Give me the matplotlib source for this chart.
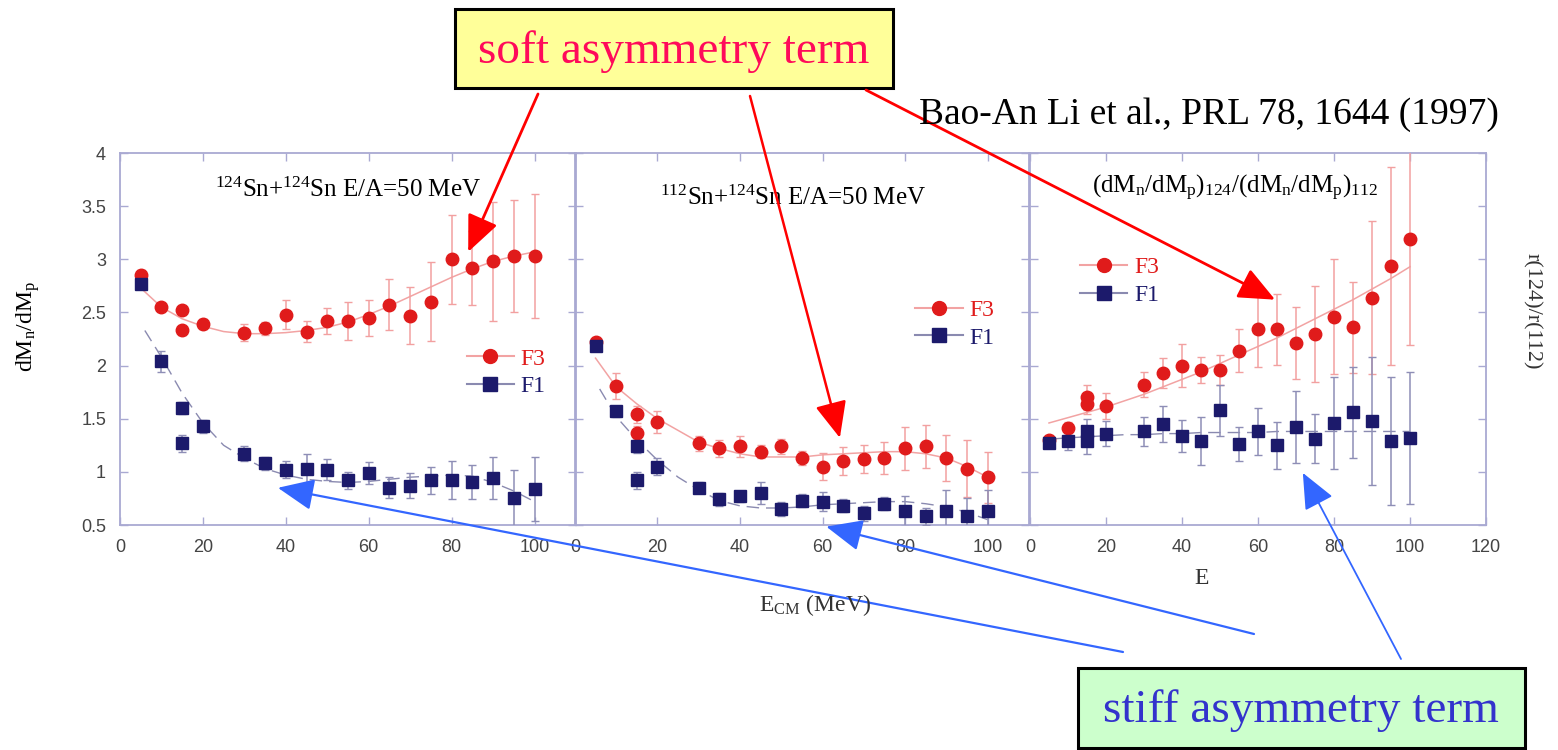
import matplotlib
matplotlib.use("Agg")
import matplotlib.pyplot as plt
from matplotlib.lines import Line2D
from matplotlib.patches import ConnectionPatch, Rectangle

plt.rcParams['mathtext.fontset'] = 'custom'
plt.rcParams['mathtext.rm'] = 'Liberation Serif'
plt.rcParams['mathtext.it'] = 'Liberation Serif:italic'
plt.rcParams['mathtext.bf'] = 'Liberation Serif:bold'

# energies (MeV) of the data points
energy = [5, 10, 15, 15, 20, 30, 35, 40, 45, 50, 55, 60, 65, 70, 75, 80, 85, 90, 95, 100]

# 124Sn+124Sn
p1_f3 = [2.85, 2.55, 2.52, 2.33, 2.39, 2.31, 2.35, 2.48, 2.32, 2.42, 2.42, 2.45, 2.57, 2.47, 2.60, 3.00, 2.92, 2.98, 3.03, 3.03]
p1_f3_err = [0.05, 0.04, 0.04, 0.04, 0.05, 0.08, 0.06, 0.14, 0.10, 0.12, 0.18, 0.17, 0.24, 0.27, 0.37, 0.42, 0.35, 0.56, 0.53, 0.58]
p1_f1 = [2.77, 2.04, 1.60, 1.27, 1.43, 1.17, 1.08, 1.02, 1.03, 1.02, 0.92, 0.99, 0.85, 0.87, 0.92, 0.92, 0.90, 0.94, 0.75, 0.84]
p1_f1_err = [0.05, 0.10, 0.06, 0.08, 0.06, 0.07, 0.06, 0.08, 0.14, 0.10, 0.08, 0.10, 0.10, 0.12, 0.13, 0.18, 0.16, 0.20, 0.27, 0.30]

# 112Sn+124Sn
p2_f3 = [2.22, 1.81, 1.54, 1.37, 1.47, 1.27, 1.22, 1.24, 1.19, 1.24, 1.13, 1.05, 1.10, 1.12, 1.13, 1.22, 1.24, 1.13, 1.03, 0.95]
p2_f3_err = [0.04, 0.12, 0.08, 0.06, 0.10, 0.07, 0.08, 0.10, 0.06, 0.07, 0.07, 0.13, 0.13, 0.13, 0.15, 0.20, 0.20, 0.22, 0.27, 0.24]
p2_f1 = [2.18, 1.57, 1.24, 0.92, 1.05, 0.85, 0.74, 0.77, 0.80, 0.65, 0.73, 0.72, 0.68, 0.61, 0.70, 0.63, 0.58, 0.63, 0.58, 0.63]
p2_f1_err = [0.04, 0.05, 0.06, 0.08, 0.08, 0.05, 0.06, 0.05, 0.10, 0.07, 0.06, 0.09, 0.06, 0.07, 0.06, 0.14, 0.08, 0.20, 0.17, 0.20]

# double ratio
p3_f3 = [1.30, 1.41, 1.70, 1.64, 1.62, 1.82, 1.93, 2.00, 1.96, 1.96, 2.14, 2.34, 2.34, 2.21, 2.30, 2.46, 2.36, 2.64, 2.94, 3.19]
p3_f3_err = [0.03, 0.06, 0.12, 0.10, 0.12, 0.12, 0.14, 0.20, 0.12, 0.14, 0.20, 0.35, 0.33, 0.34, 0.45, 0.54, 0.43, 0.72, 0.93, 1.00]
p3_f1 = [1.27, 1.29, 1.38, 1.29, 1.36, 1.38, 1.45, 1.34, 1.29, 1.58, 1.26, 1.38, 1.25, 1.42, 1.31, 1.46, 1.56, 1.48, 1.29, 1.32]
p3_f1_err = [0.04, 0.08, 0.12, 0.12, 0.12, 0.14, 0.17, 0.15, 0.23, 0.24, 0.16, 0.22, 0.22, 0.34, 0.23, 0.43, 0.43, 0.60, 0.60, 0.62]

# fitted curves
fit_x = [5, 10, 15, 20, 25, 30, 35, 40, 45, 50, 55, 60, 65, 70, 75, 80, 85, 90, 95, 100]
fit_x_f1 = [6, 10, 15, 20, 25, 30, 35, 40, 45, 50, 55, 60, 65, 70, 75, 80, 85, 90, 95, 100]
fit1_f3 = [2.73, 2.55, 2.44, 2.37, 2.32, 2.30, 2.30, 2.31, 2.33, 2.36, 2.41, 2.48, 2.56, 2.65, 2.74, 2.83, 2.91, 2.98, 3.03, 3.07]
fit1_f1 = [2.33, 2.08, 1.74, 1.46, 1.25, 1.13, 1.03, 0.97, 0.93, 0.91, 0.90, 0.91, 0.93, 0.95, 0.96, 0.97, 0.96, 0.90, 0.82, 0.72]
fit2_f3 = [2.07, 1.80, 1.64, 1.50, 1.39, 1.28, 1.22, 1.17, 1.14, 1.14, 1.14, 1.16, 1.17, 1.18, 1.19, 1.19, 1.17, 1.13, 1.05, 0.95]
fit2_f1 = [1.78, 1.52, 1.30, 1.11, 0.95, 0.83, 0.73, 0.68, 0.66, 0.66, 0.67, 0.69, 0.70, 0.71, 0.72, 0.72, 0.70, 0.67, 0.62, 0.55]
fit3_f3 = [1.46, 1.51, 1.56, 1.61, 1.67, 1.73, 1.80, 1.87, 1.94, 2.02, 2.10, 2.18, 2.26, 2.35, 2.44, 2.53, 2.62, 2.72, 2.82, 2.93]
fit3_f1 = [1.31, 1.32, 1.33, 1.34, 1.35, 1.35, 1.36, 1.36, 1.37, 1.37, 1.37, 1.37, 1.38, 1.38, 1.38, 1.38, 1.38, 1.38, 1.38, 1.38]

RED = '#e01b1b'
NAVY = '#1c1a6b'
FRAME = '#a9a9d2'
SERIF = 'Liberation Serif'
W, H = 1558, 750

fig = plt.figure(figsize=(15.58, 7.5), dpi=100)
ax1 = fig.add_axes([0.0770, 0.30, 0.2927, 0.496])
ax2 = fig.add_axes([0.3690, 0.30, 0.2914, 0.496])
ax3 = fig.add_axes([0.6611, 0.30, 0.2927, 0.496])


def draw_panel(ax, f3, f3_err, f1, f1_err, fit3, fit1, xmax):
    ax.set_facecolor('none')
    ax.plot(fit_x, fit3, color='#f2a3a3', lw=1.1, zorder=1)
    ax.plot(fit_x_f1, fit1, color='#8a8ab0', lw=1.0, dashes=(9, 5), zorder=1)
    ax.errorbar(energy, f3, yerr=f3_err, fmt='o', color=RED, ms=9, ecolor='#f2a0a0',
                elinewidth=1.1, capsize=3, zorder=3)
    ax.errorbar(energy, f1, yerr=f1_err, fmt='s', color=NAVY, ms=9, ecolor='#8e8eb6',
                elinewidth=1.1, capsize=3, zorder=3)
    ax.set_xlim(0, xmax)
    ax.set_ylim(0.5, 4)
    ax.set_xticks(range(0, xmax + 1, 20) if xmax == 120 else range(0, 101, 20))
    ax.set_yticks([0.5, 1, 1.5, 2, 2.5, 3, 3.5, 4])
    ax.set_yticklabels(['0.5', '1', '1.5', '2', '2.5', '3', '3.5', '4'])
    for s in ax.spines.values():
        s.set_color(FRAME)
        s.set_linewidth(1.3)
    ax.tick_params(direction='in', top=True, right=True, length=6, width=1, color=FRAME,
                   labelsize=13, labelcolor='#444444', pad=10)
    for lab in ax.get_xticklabels() + ax.get_yticklabels():
        lab.set_family('Liberation Sans')


def add_legend(ax, x, y):
    handles = [Line2D([], [], color='#f2a3a3', marker='o', mfc=RED, mec=RED, ms=10),
               Line2D([], [], color='#8a8ab0', marker='s', mfc=NAVY, mec=NAVY, ms=10)]
    ax.legend(handles, ['F3', 'F1'], loc='center left', bbox_to_anchor=(x, y),
              frameon=False, labelcolor=[RED, NAVY], handlelength=2.0, handletextpad=0.3,
              labelspacing=0.25, borderpad=0, borderaxespad=0,
              prop={'family': SERIF, 'size': 17})


draw_panel(ax1, p1_f3, p1_f3_err, p1_f1, p1_f1_err, fit1_f3, fit1_f1, 110)
draw_panel(ax2, p2_f3, p2_f3_err, p2_f1, p2_f1_err, fit2_f3, fit2_f1, 110)
draw_panel(ax3, p3_f3, p3_f3_err, p3_f1, p3_f1_err, fit3_f3, fit3_f1, 120)
ax2.tick_params(labelleft=False)
ax3.tick_params(labelleft=False)

add_legend(ax1, 0.76, 0.41)
add_legend(ax2, 0.75, 0.54)
add_legend(ax3, 0.11, 0.655)

ax1.text(0.50, 0.90, r'$^{124}$Sn+$^{124}$Sn E/A=50 MeV', transform=ax1.transAxes,
         ha='center', va='center', family=SERIF, fontsize=18)
ax2.text(0.48, 0.88, r'$^{112}$Sn+$^{124}$Sn E/A=50 MeV', transform=ax2.transAxes,
         ha='center', va='center', family=SERIF, fontsize=18)
ax3.text(0.45, 0.905, r'(dM$_\mathrm{n}$/dM$_\mathrm{p}$)$_{124}$/(dM$_\mathrm{n}$/dM$_\mathrm{p}$)$_{112}$',
         transform=ax3.transAxes, ha='center', va='center', family=SERIF, fontsize=18)

fig.text(28 / W, 1 - 326 / H, r'dM$_\mathrm{n}$/dM$_\mathrm{p}$', rotation=90,
         ha='center', va='center', family=SERIF, fontsize=17)
fig.text(1532 / W, 1 - 311 / H, 'r(124)/r(112)', rotation=-90,
         ha='center', va='center', family=SERIF, fontsize=16, color='#333333')
fig.text(815 / W, 1 - 605 / H, r'E$_\mathrm{CM}$ (MeV)', ha='center', va='center',
         family=SERIF, fontsize=17, color='#333333')
fig.text(1202 / W, 1 - 578 / H, 'E', ha='center', va='center',
         family=SERIF, fontsize=17, color='#333333')

fig.text(1209 / W, 1 - 115 / H, 'Bao-An Li et al., PRL 78, 1644 (1997)',
         ha='center', va='center', family=SERIF, fontsize=27)

# callout boxes
fig.add_artist(Rectangle((455 / W, 1 - 88 / H), 438 / W, 79 / H, transform=fig.transFigure,
                         fc='#ffff99', ec='black', lw=2.2))
fig.text(674 / W, 1 - 52 / H, 'soft asymmetry term', ha='center', va='center',
         family=SERIF, fontsize=34, color='#ff0a5a')
fig.add_artist(Rectangle((1078 / W, 1 - 748 / H), 447 / W, 80 / H, transform=fig.transFigure,
                         fc='#ccffcc', ec='black', lw=2.2))
fig.text(1301 / W, 1 - 711 / H, 'stiff asymmetry term', ha='center', va='center',
         family=SERIF, fontsize=34, color='#3333cc')

# arrows: start in figure pixels, tip in data coordinates of a panel
arrows = [((538, 656), ax1, (84, 3.07), 'red', 2.0),
          ((750, 654), ax2, (64.2, 1.32), 'red', 1.8),
          ((866, 660), ax3, (64.5, 2.62), 'red', 2.0),
          ((1123, 98), ax1, (38.1, 0.85), '#3366ff', 1.6),
          ((1254, 116), ax2, (60.9, 0.485), '#3366ff', 1.6),
          ((1401, 91), ax3, (71.8, 0.99), '#3366ff', 1.3)]
for start, ax, tip, col, lw in arrows:
    con = ConnectionPatch(xyA=start, coordsA='figure pixels', xyB=tip, coordsB=ax.transData,
                          arrowstyle='-|>,head_length=0.8,head_width=0.35', mutation_scale=28,
                          color=col, lw=lw, shrinkA=0, shrinkB=0)
    fig.add_artist(con)

fig.savefig('out.png', dpi=100)
